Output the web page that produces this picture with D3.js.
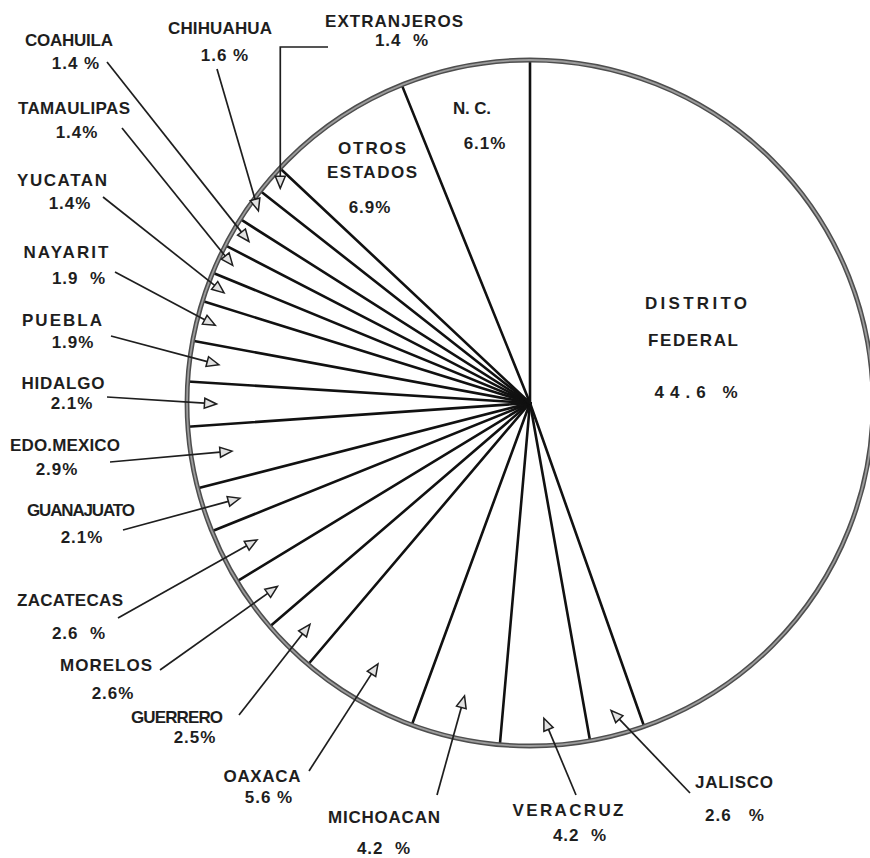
<!DOCTYPE html>
<html>
<head>
<meta charset="utf-8">
<script src="https://cdn.jsdelivr.net/npm/d3@7"></script>
<style>
  html, body { margin: 0; padding: 0; background: #fff; }
  svg { display: block; }
  text { font-family: "Liberation Sans", Arial, sans-serif; font-weight: bold; fill: #1e1e1e; white-space: pre; }
</style>
</head>
<body>
<svg id="chart" width="870" height="858"></svg>
<script>
// Origin of the population, clockwise from twelve o'clock
const states = ["DISTRITO FEDERAL", "JALISCO", "VERACRUZ", "MICHOACAN", "OAXACA", "GUERRERO",
  "MORELOS", "ZACATECAS", "GUANAJUATO", "EDO. MEXICO", "HIDALGO", "PUEBLA", "NAYARIT",
  "YUCATAN", "TAMAULIPAS", "COAHUILA", "CHIHUAHUA", "EXTRANJEROS", "OTROS ESTADOS", "N. C."];
const shares = [44.6, 2.6, 4.2, 4.2, 5.6, 2.5, 2.6, 2.6, 2.1, 2.9, 2.1, 1.9, 1.9,
  1.4, 1.4, 1.4, 1.6, 1.4, 6.9, 6.1];
// number of spaces set between the number and its percent sign
const pctGap = [1, 3, 2, 2, 1, 0, 0, 2, 0, 0, 0, 0, 2,
  0, 0, 1, 1, 2, 0, 0];

// Label placement: name line [text, cx, cy, width], value line [cx, cy],
// leader tail [x, y], and how deep into the slice the arrow reaches (fraction of radius)
const layout = {
  "COAHUILA":    { name: ["COAHUILA", 69, 40, 88],     val: [76, 63],  tail: [107, 62],  depth: 0.945 },
  "CHIHUAHUA":   { name: ["CHIHUAHUA", 220, 28, 104],  val: [225, 55], tail: [217, 69],  depth: 0.97 },
  "TAMAULIPAS":  { name: ["TAMAULIPAS", 74, 108, 112], val: [77, 132], tail: [122, 128], depth: 0.955 },
  "YUCATAN":     { name: ["YUCATAN", 62, 180, 90],     val: [70, 203], tail: [103, 197], depth: 0.948 },
  "NAYARIT":     { name: ["NAYARIT", 66, 252, 85],     val: [79, 278], tail: [115, 272], depth: 0.945 },
  "PUEBLA":      { name: ["PUEBLA", 62, 320, 80],      val: [73, 342], tail: [111, 336], depth: 0.914 },
  "HIDALGO":     { name: ["HIDALGO", 63, 383, 83],     val: [72, 403], tail: [107, 397], depth: 0.914 },
  "EDO. MEXICO": { name: ["EDO.MEXICO", 65, 445, 110], val: [57, 469], tail: [110, 462], depth: 0.88 },
  "GUANAJUATO":  { name: ["GUANAJUATO", 81, 510, 108], val: [82, 537], tail: [123, 530], depth: 0.89 },
  "ZACATECAS":   { name: ["ZACATECAS", 70, 600, 106],  val: [79, 633], tail: [118, 618], depth: 0.89 },
  "MORELOS":     { name: ["MORELOS", 106, 665, 92],    val: [113, 693], tail: [160, 670], depth: 0.91 },
  "GUERRERO":    { name: ["GUERRERO", 177, 717, 92],   val: [195, 737], tail: [239, 715], depth: 0.91 },
  "OAXACA":      { name: ["OAXACA", 262, 776, 77],     val: [269, 797], tail: [309, 771], depth: 0.88 },
  "MICHOACAN":   { name: ["MICHOACAN", 384, 817, 112], val: [384, 848], tail: [437, 795], depth: 0.875 },
  "VERACRUZ":    { name: ["VERACRUZ", 568, 810, 111],  val: [580, 835], tail: [576, 795], depth: 0.92 },
  "JALISCO":     { name: ["JALISCO", 734, 782, 78],    val: [735, 815], tail: [690, 793], depth: 0.927 },
  "EXTRANJEROS": { name: ["EXTRANJEROS", 394, 21, 138], val: [402, 40], tail: [328, 47], depth: 0.96, elbow: true }
};
// Labels set inside their own slice: lines of [text, cx, cy, width], value [cx, cy, width]
const inside = {
  "DISTRITO FEDERAL": { lines: [["DISTRITO", 696, 303, 102], ["FEDERAL", 693, 340, 90]], val: [696, 392, 83] },
  "OTROS ESTADOS":    { lines: [["OTROS", 372, 148, 68], ["ESTADOS", 372, 172, 90]], val: [370, 207, 0] },
  "N. C.":            { lines: [["N. C.", 472, 108, 38]], val: [485, 143, 0] }
};

const cx = 530, cy = 403, R = 343;
const fontSize = 17;
const svg = d3.select("#chart");
const fmt = d3.format(".1f");

const data = states.map((s, i) => ({ name: s, value: shares[i], gap: pctGap[i] }));
const arcs = d3.pie().sort(null).value(d => d.value)(data);
const arc = d3.arc().innerRadius(0).outerRadius(R);

const pie = svg.append("g").attr("transform", `translate(${cx},${cy})`);
pie.selectAll("path.slice").data(arcs).join("path")
  .attr("class", "slice").attr("d", arc).attr("fill", "#fff");

// slice boundaries
pie.selectAll("line.edge").data(arcs).join("line")
  .attr("class", "edge")
  .attr("x1", 0).attr("y1", 0)
  .attr("x2", d => d3.pointRadial(d.startAngle, R)[0])
  .attr("y2", d => d3.pointRadial(d.startAngle, R)[1])
  .attr("stroke", "#111").attr("stroke-width", 2.6).attr("stroke-linecap", "round");

// rim
pie.append("circle").attr("r", R).attr("fill", "none").attr("stroke", "#4e4e4e").attr("stroke-width", 4.8);
pie.append("circle").attr("r", R).attr("fill", "none").attr("stroke", "#9c9c9c").attr("stroke-width", 1.8);

function label(txt, x, y, w, spacing) {
  const t = svg.append("text")
    .attr("x", x).attr("y", y + fontSize * 0.36)
    .attr("text-anchor", "middle")
    .attr("font-size", fontSize)
    .text(txt);
  if (w) t.attr("textLength", w).attr("lengthAdjust", "spacing");
  else t.attr("letter-spacing", spacing || 0);
}
const pctText = d => fmt(d.value) + "\u00a0".repeat(d.gap) + "%";

function arrowHead(from, tip) {
  const dx = tip[0] - from[0], dy = tip[1] - from[1], L = Math.hypot(dx, dy);
  const ux = dx / L, uy = dy / L, len = 12, hw = 5;
  const bx = tip[0] - ux * len, by = tip[1] - uy * len;
  svg.append("path")
    .attr("d", `M${tip[0]},${tip[1]}L${bx - uy * hw},${by + ux * hw}L${bx + uy * hw},${by - ux * hw}Z`)
    .attr("fill", "#e2e2e2").attr("stroke", "#1e1e1e").attr("stroke-width", 1.5)
    .attr("stroke-linejoin", "miter");
  return [bx, by];
}

arcs.forEach(a => {
  const d = a.data;
  const mid = (a.startAngle + a.endAngle) / 2;
  if (inside[d.name]) {
    const lab = inside[d.name];
    lab.lines.forEach(l => label(l[0], l[1], l[2], l[3]));
    label(pctText(d), lab.val[0], lab.val[1], lab.val[2], 1);
    return;
  }
  const lay = layout[d.name];
  if (!lay) return;
  label(lay.name[0], lay.name[1], lay.name[2], lay.name[3]);
  label(pctText(d), lay.val[0], lay.val[1], 0, 1);

  const p = d3.pointRadial(mid, R * lay.depth);
  const tip = [cx + p[0], cy + p[1]];
  if (lay.elbow) {
    const corner = [tip[0], lay.tail[1]];
    const base = arrowHead(corner, tip);
    svg.append("path")
      .attr("d", `M${lay.tail[0]},${lay.tail[1]}H${corner[0]}V${base[1]}`)
      .attr("fill", "none").attr("stroke", "#1e1e1e").attr("stroke-width", 1.7);
  } else {
    const base = arrowHead(lay.tail, tip);
    svg.append("line")
      .attr("x1", lay.tail[0]).attr("y1", lay.tail[1])
      .attr("x2", base[0]).attr("y2", base[1])
      .attr("stroke", "#1e1e1e").attr("stroke-width", 1.7);
  }
});
</script>
</body>
</html>
